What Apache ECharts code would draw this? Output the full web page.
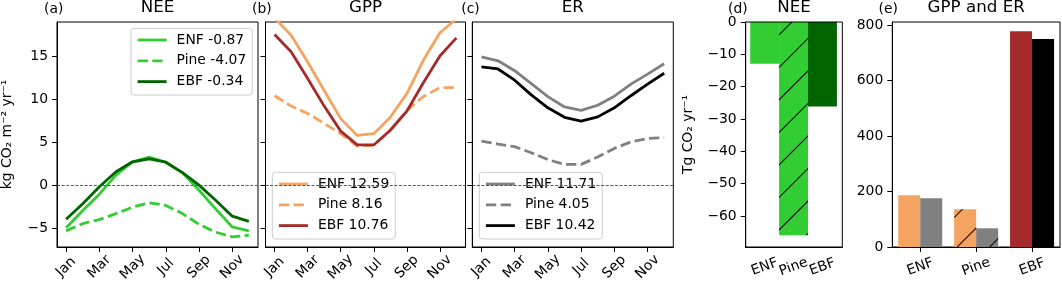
<!DOCTYPE html>
<html><head><meta charset="utf-8">
<script src="https://cdn.jsdelivr.net/npm/echarts@6/dist/echarts.min.js"></script>
<style>html,body{margin:0;padding:0;background:#fff}#c{width:1062px;height:287px}</style>
</head><body><div id="c"></div>
<script>
const months = ['Jan','Feb','Mar','Apr','May','Jun','Jul','Aug','Sep','Oct','Nov','Dec'];
const monthTicks = [0, 2, 4, 6, 8, 10];
const neeENF  = [-4.9, -2.9, -1.0, 1.2, 2.75, 3.3, 2.7, 1.5, -0.55, -2.7, -4.8, -5.25];
const neePine = [-5.25, -4.4, -3.95, -3.25, -2.5, -2.0, -2.3, -3.25, -4.5, -5.4, -5.95, -5.75];
const neeEBF  = [-3.9, -2.1, -0.15, 1.6, 2.75, 3.1, 2.7, 1.5, 0.05, -1.7, -3.55, -4.15];
const gppENF  = [19.4, 17.4, 14.3, 11.0, 7.75, 5.8, 6.0, 7.9, 10.65, 14.5, 17.7, 19.3];
const gppPine = [10.4, 9.2, 8.35, 7.2, 6.0, 4.55, 4.67, 6.4, 8.7, 10.3, 11.35, 11.35];
const gppEBF  = [17.5, 15.5, 12.4, 9.2, 6.3, 4.7, 4.7, 6.4, 8.6, 11.9, 15.0, 17.1];
const erENF   = [14.9, 14.45, 13.3, 11.8, 10.3, 9.1, 8.7, 9.3, 10.35, 11.75, 12.9, 14.1];
const erPine  = [5.15, 4.8, 4.5, 3.8, 3.0, 2.45, 2.45, 3.3, 4.3, 5.05, 5.45, 5.55];
const erEBF   = [13.75, 13.5, 12.2, 10.5, 9.0, 7.9, 7.45, 7.95, 9.0, 10.4, 11.75, 13.0];
const legendNEE = ['ENF -0.87', 'Pine -4.07', 'EBF -0.34'];
const legendGPP = ['ENF 12.59', 'Pine 8.16', 'EBF 10.76'];
const legendER  = ['ENF 11.71', 'Pine 4.05', 'EBF 10.42'];
const barCats = ['ENF', 'Pine', 'EBF'];
const regionNEE = [-12.9, -66.0, -26.1];
const regionGPP = [186.6, 136.0, 778.0];
const regionER  = [175.7, 67.5, 749.5];
const yTicksMonthly = [-5, 0, 5, 10, 15];
const yTicksRegionNEE = [0, -10, -20, -30, -40, -50, -60];
const yTicksRegionFlux = [0, 200, 400, 600, 800];
const titles = ['NEE', 'GPP', 'ER', 'NEE', 'GPP and ER'];
const panelLabels = ['(a)', '(b)', '(c)', '(d)', '(e)'];

const FONT = '"DejaVu Sans", sans-serif';
const fmtNum = v => (v < 0 ? '\u2212' + (-v) : String(v));
const chart = echarts.init(document.getElementById('c'), null, {renderer: 'canvas'});

const gridBase = {show: true, borderColor: '#000', borderWidth: 1, backgroundColor: 'transparent', containLabel: false, outerBoundsMode: 'none'};
const grids = [
  {left: 57, top: 22, width: 201, height: 225},
  {left: 265.5, top: 22, width: 200, height: 225},
  {left: 472.3, top: 22, width: 201, height: 225},
  {left: 745.7, top: 22, width: 96.6, height: 225, z: 5},
  {left: 892.3, top: 22, width: 167.7, height: 225},
  {left: 750.2, top: 22, width: 86.7, height: 225, show: false}
].map(g => Object.assign({}, gridBase, g));

const axLine = {show: true, onZero: false, lineStyle: {color: '#000', width: 1}};
const tickStyle = {color: '#000', width: 1};
const lblBase = {color: '#000', fontSize: 13.9, fontFamily: FONT, hideOverlap: false};

const xAxes = [0, 1, 2].map(i => ({
  gridIndex: i, type: 'value', min: -0.55, max: 11.55,
  axisLine: axLine,
  axisTick: {show: true, customValues: monthTicks, length: 5, lineStyle: tickStyle},
  axisLabel: Object.assign({customValues: monthTicks, formatter: v => months[v], rotate: 45, align: 'center', verticalAlign: 'middle', margin: 20}, lblBase),
  splitLine: {show: false}
}));
// frame of panel (d)
xAxes.push({
  gridIndex: 3, type: 'value', min: 0, max: 1, z: 5,
  axisLine: axLine, axisTick: {show: false}, axisLabel: {show: false}, splitLine: {show: false}
});
xAxes.push({
  gridIndex: 4, type: 'category', data: barCats, boundaryGap: true,
  axisLine: axLine,
  axisTick: {show: true, alignWithLabel: true, length: 5, lineStyle: tickStyle},
  axisLabel: Object.assign({rotate: 20, align: 'center', verticalAlign: 'middle', margin: 20, interval: 0}, lblBase),
  splitLine: {show: false}
});
// bar placement axis of panel (d)
xAxes.push({
  gridIndex: 5, type: 'category', data: barCats, boundaryGap: true,
  axisLine: {show: false},
  axisTick: {show: true, alignWithLabel: true, length: 5, lineStyle: tickStyle},
  axisLabel: Object.assign({rotate: 20, align: 'center', verticalAlign: 'middle', margin: 20, interval: 0}, lblBase),
  splitLine: {show: false}
});

const yAxes = [0, 1, 2].map(i => ({
  gridIndex: i, type: 'value', min: -7.12, max: 18.94,
  axisLine: axLine,
  axisTick: {show: true, customValues: yTicksMonthly, length: 5, lineStyle: tickStyle},
  axisLabel: Object.assign({show: i === 0, customValues: yTicksMonthly, formatter: fmtNum, margin: 9}, lblBase),
  splitLine: {show: false},
  name: i === 0 ? 'kg CO\u2082 m\u207B\u00B2 yr\u207B\u00B9' : '',
  nameLocation: 'middle', nameGap: 43,
  nameTextStyle: {color: '#000', fontSize: 13.9, fontFamily: FONT}
}));
yAxes.push({
  gridIndex: 3, type: 'value', min: -69.6, max: 0, z: 5,
  axisLine: axLine,
  axisTick: {show: true, customValues: yTicksRegionNEE, length: 5, lineStyle: tickStyle},
  axisLabel: Object.assign({customValues: yTicksRegionNEE, formatter: fmtNum, margin: 9}, lblBase),
  splitLine: {show: false},
  name: 'Tg CO\u2082 yr\u207B\u00B9', nameLocation: 'middle', nameGap: 50,
  nameTextStyle: {color: '#000', fontSize: 13.9, fontFamily: FONT}
});
yAxes.push({
  gridIndex: 4, type: 'value', min: 0, max: 811,
  axisLine: axLine,
  axisTick: {show: true, customValues: yTicksRegionFlux, length: 5, lineStyle: tickStyle},
  axisLabel: Object.assign({customValues: yTicksRegionFlux, formatter: fmtNum, margin: 9}, lblBase),
  splitLine: {show: false}
});
yAxes.push({
  gridIndex: 5, type: 'value', min: -69.6, max: 0,
  axisLine: {show: false}, axisTick: {show: false}, axisLabel: {show: false}, splitLine: {show: false}
});

const DASH = [10.3, 4.4];
function lineSeries(name, arr, idx, color, dashed) {
  return {
    name: name, type: 'line', xAxisIndex: idx, yAxisIndex: idx,
    data: arr.map((v, i) => [i, v]),
    symbol: 'none', smooth: false, clip: true,
    lineStyle: {color: color, width: 2.8, type: dashed ? DASH : 'solid'},
    itemStyle: {color: color},
    z: 3
  };
}
const zeroLine = {
  symbol: 'none', silent: true, label: {show: false},
  lineStyle: {color: '#b03030', width: 1, type: [3, 1.6]},
  data: [{yAxis: 0}]
};

const series = [
  lineSeries(legendNEE[0], neeENF, 0, '#32cd32', false),
  lineSeries(legendNEE[1], neePine, 0, '#32cd32', true),
  lineSeries(legendNEE[2], neeEBF, 0, '#006400', false),
  lineSeries(legendGPP[0], gppENF, 1, '#f4a460', false),
  lineSeries(legendGPP[1], gppPine, 1, '#f4a460', true),
  lineSeries(legendGPP[2], gppEBF, 1, '#a52a2a', false),
  lineSeries(legendER[0], erENF, 2, '#808080', false),
  lineSeries(legendER[1], erPine, 2, '#808080', true),
  lineSeries(legendER[2], erEBF, 2, '#000000', false)
];
series[0].markLine = zeroLine;
series[3].markLine = zeroLine;
series[6].markLine = zeroLine;

const hatch = {symbol: 'rect', symbolSize: 1, dashArrayX: [1, 0], dashArrayY: [1, 22], rotation: -Math.PI / 4, color: '#000'};
const neeColors = ['#32cd32', '#32cd32', '#006400'];
series.push({
  type: 'bar', xAxisIndex: 5, yAxisIndex: 5, barWidth: '100%',
  data: regionNEE.map((v, i) => ({value: v, itemStyle: Object.assign({color: neeColors[i]}, i === 1 ? {decal: hatch} : {})}))
});
const gppColors = ['#f4a460', '#f4a460', '#a52a2a'];
const erColors = ['#808080', '#808080', '#000000'];
series.push({
  type: 'bar', xAxisIndex: 4, yAxisIndex: 4, barWidth: 22, barGap: '0%',
  data: regionGPP.map((v, i) => ({value: v, itemStyle: Object.assign({color: gppColors[i]}, i === 1 ? {decal: hatch} : {})}))
});
series.push({
  type: 'bar', xAxisIndex: 4, yAxisIndex: 4, barWidth: 22, barGap: '0%',
  data: regionER.map((v, i) => ({value: v, itemStyle: Object.assign({color: erColors[i]}, i === 1 ? {decal: hatch} : {})}))
});

function legendAt(names, left, top) {
  return {
    data: names, left: left, top: top, orient: 'vertical',
    itemWidth: 29, itemHeight: 14, itemGap: 6.8,
    padding: [4.7, 6, 6.4, 5.2],
    backgroundColor: 'rgba(255,255,255,0.8)', borderColor: '#cccccc', borderWidth: 1, borderRadius: 3,
    textStyle: {color: '#000', fontSize: 13.9, fontFamily: FONT, padding: [0, 0, 0, 5]},
    lineStyle: {width: 2.8},
    itemStyle: {opacity: 0, borderWidth: 0},
    selectedMode: false
  };
}

const titleCenters = [157.5, 365.5, 572.8, 794, 976.2];
const labelLefts = [44, 252, 461.3, 728, 878.6];
const graphic = [];
titles.forEach((t, i) => graphic.push({type: 'text', x: titleCenters[i], y: 8, silent: true,
  style: {text: t, font: '16.7px ' + FONT, fill: '#000', textAlign: 'center', textVerticalAlign: 'middle', align: 'center', verticalAlign: 'middle'}}));
panelLabels.forEach((t, i) => graphic.push({type: 'text', x: labelLefts[i], y: 9, silent: true,
  style: {text: t, font: '13.9px ' + FONT, fill: '#000', textAlign: 'left', textVerticalAlign: 'middle', align: 'left', verticalAlign: 'middle'}}));

chart.setOption({
  animation: false,
  backgroundColor: '#fff',
  textStyle: {fontFamily: FONT},
  grid: grids, xAxis: xAxes, yAxis: yAxes, series: series,
  legend: [legendAt(legendNEE, 131, 28.3), legendAt(legendGPP, 272.3, 172.3), legendAt(legendER, 479.3, 172.3)],
  graphic: graphic
});
</script></body></html>
